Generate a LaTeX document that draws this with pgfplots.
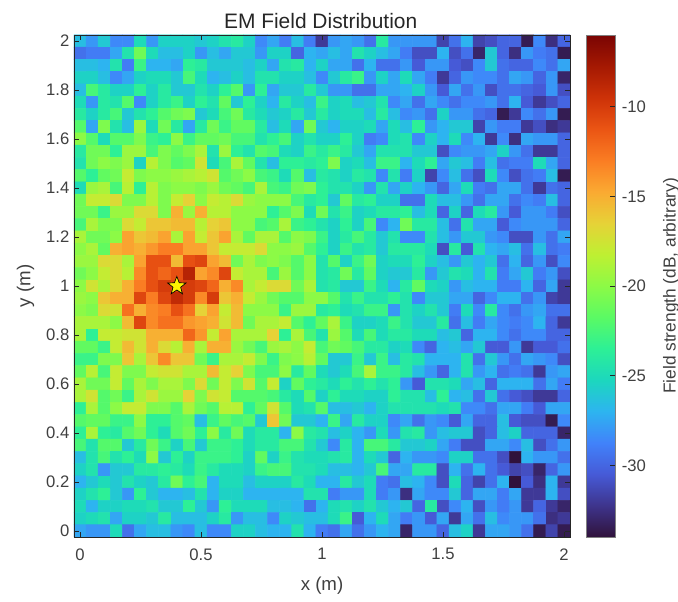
\documentclass[border=0pt]{standalone}
\usepackage{pgfplots}
\pgfplotsset{compat=1.18}
\usepackage{fontspec}
\setmainfont{Liberation Sans}
\definecolor{axc}{RGB}{38,38,38}
\definecolor{txc}{RGB}{64,64,64}
\pgfdeclareplotmark{fstar}{%
\pgfpathmoveto{\pgfpointpolar{90}{\pgfplotmarksize}}%
\pgfpathlineto{\pgfpointpolar{126}{0.42\pgfplotmarksize}}%
\pgfpathlineto{\pgfpointpolar{162}{\pgfplotmarksize}}%
\pgfpathlineto{\pgfpointpolar{198}{0.42\pgfplotmarksize}}%
\pgfpathlineto{\pgfpointpolar{234}{\pgfplotmarksize}}%
\pgfpathlineto{\pgfpointpolar{270}{0.42\pgfplotmarksize}}%
\pgfpathlineto{\pgfpointpolar{306}{\pgfplotmarksize}}%
\pgfpathlineto{\pgfpointpolar{342}{0.42\pgfplotmarksize}}%
\pgfpathlineto{\pgfpointpolar{18}{\pgfplotmarksize}}%
\pgfpathlineto{\pgfpointpolar{54}{0.42\pgfplotmarksize}}%
\pgfpathclose\pgfusepathqfillstroke}
\begin{document}
\begin{tikzpicture}
\useasboundingbox (-55.5pt,-48pt) rectangle (453pt,402.75pt);
\begin{axis}[
  at={(0,0)},anchor=south west,
  scale only axis,width=372pt,height=376.5pt,
  xmin=-0.025,xmax=2.025,ymin=-0.025,ymax=2.025,
  axis on top,
  xtick={0,0.5,1,1.5,2},ytick={0,0.2,0.4,0.6,0.8,1,1.2,1.4,1.6,1.8,2},
  yticklabels={0,0.2,0.4,0.6,0.8,1,1.2,1.4,1.6,1.8,2},
  xticklabels={0,0.5,1,1.5,2},
  tick align=inside,
  major tick length=3.75pt,
  tick style={axc,line width=0.4pt},
  axis line style={axc,line width=0.5pt},
  tick label style={font=\fontsize{12.5pt}{14pt}\selectfont,text=txc},
  xticklabel style={yshift=-5pt},
  xlabel={x (m)},ylabel={y (m)},
  label style={font=\fontsize{14pt}{16pt}\selectfont,text=txc},
  xlabel style={yshift=-6pt},
  ylabel style={yshift=2pt},
  title={EM Field Distribution},
  title style={font=\fontsize{15.7pt}{17pt}\selectfont,text=axc,yshift=-5pt,xshift=-1pt},
  colormap={turbo}{rgb255=(48,18,59) rgb255=(62,52,140) rgb255=(70,90,215) rgb255=(65,130,250) rgb255=(45,180,240) rgb255=(28,215,190) rgb255=(45,240,150) rgb255=(90,250,100) rgb255=(140,250,70) rgb255=(190,240,50) rgb255=(230,210,55) rgb255=(250,170,50) rgb255=(250,125,35) rgb255=(235,85,20) rgb255=(205,50,8) rgb255=(165,25,2) rgb255=(122,4,3)},
  point meta min=-34,point meta max=-6,
  colorbar,
  colorbar/width=22.3pt,
  colorbar shift/.style={xshift=9.75pt},
  colorbar style={
    ytick={-30,-25,-20,-15,-10},
    yticklabels={-30,-25,-20,-15,-10},
    ytick pos=right,
    yticklabel pos=right,
    yticklabel style={xshift=1pt},
    tick align=inside,
    major tick length=4pt,
    tick style={axc,line width=0.4pt},
    axis line style={gray,line width=0.5pt},
    tick label style={font=\fontsize{12.5pt}{14pt}\selectfont,text=txc},
    ylabel={Field strength (dB, arbitrary)},
    ylabel style={font=\fontsize{13pt}{14pt}\selectfont,text=txc,yshift=-6pt},
  },
]
\addplot[matrix plot*,mesh/cols=41,point meta=explicit,forget plot] table[row sep=\\,meta=z,
  x expr={(\coordindex-41*floor((\coordindex+0.5)/41))*0.05},
  y expr={2-floor((\coordindex+0.5)/41)*0.05}]{
z\\
-26.5\\-28\\-26\\-28.5\\-28.5\\-25\\-28\\-25.5\\-25.5\\-25.5\\-26\\-25.5\\-24.5\\-24\\-25.5\\-28.5\\-27.5\\-29\\-26.5\\-29\\-32\\-28\\-27.5\\-28\\-29.5\\-24\\-28\\-28\\-28\\-28\\-31.5\\-29.5\\-27\\-31.5\\-31\\-30\\-30\\-33.5\\-28.5\\-32.5\\-30\\
-29.5\\-29\\-29\\-27.5\\-24.5\\-21\\-25\\-26.5\\-26.5\\-25.5\\-28\\-26.5\\-27.5\\-26\\-26\\-28\\-25.5\\-25.5\\-30\\-27\\-27.5\\-26.5\\-27.5\\-24.5\\-25.5\\-26.5\\-27.5\\-29\\-31\\-31\\-27\\-31\\-29.5\\-33\\-26\\-30\\-32.5\\-28\\-29\\-29.5\\-33.5\\
-26.5\\-26.5\\-27\\-24.5\\-29\\-23\\-27\\-27\\-27.5\\-23.5\\-24\\-26\\-26\\-26\\-26.5\\-25.5\\-27.5\\-24.5\\-24\\-27\\-25.5\\-27.5\\-27.5\\-29.5\\-27\\-29.5\\-29.5\\-28\\-30.5\\-28\\-28\\-30.5\\-31\\-28.5\\-26\\-29.5\\-30\\-30\\-28.5\\-29.5\\-27.5\\
-25.5\\-25.5\\-26.5\\-28.5\\-27.5\\-25.5\\-25\\-25\\-26\\-22.5\\-25\\-27\\-26.5\\-25.5\\-26.5\\-24.5\\-24.5\\-25.5\\-25.5\\-26.5\\-28.5\\-26\\-24\\-23\\-28\\-25.5\\-27.5\\-25\\-27.5\\-29\\-32\\-30\\-28\\-28.5\\-28.5\\-29.5\\-27.5\\-28\\-30\\-28\\-33\\
-26.5\\-22.5\\-24\\-25.5\\-25.5\\-23.5\\-25.5\\-24\\-26\\-26\\-24.5\\-25.5\\-23.5\\-22\\-28\\-23.5\\-27.5\\-26\\-26\\-24\\-26\\-28\\-28\\-29.5\\-29.5\\-27.5\\-27.5\\-27\\-25.5\\-28\\-30.5\\-27.5\\-29.5\\-28\\-31\\-29.5\\-29.5\\-30\\-30.5\\-28\\-31\\
-25\\-28\\-24\\-24.5\\-22\\-28.5\\-25.5\\-24\\-23\\-25.5\\-23.5\\-24.5\\-21.5\\-26\\-23.5\\-25.5\\-27\\-24\\-25.5\\-26.5\\-23\\-25.5\\-25\\-26.5\\-26\\-24.5\\-28.5\\-27.5\\-29.5\\-27.5\\-28.5\\-29.5\\-28.5\\-28.5\\-28\\-29.5\\-27\\-30.5\\-32\\-31\\-30\\
-24\\-25.5\\-24\\-22.5\\-26\\-24.5\\-23.5\\-22\\-21\\-20.5\\-26\\-25\\-22.5\\-21\\-24\\-25\\-26\\-25.5\\-24\\-26\\-24\\-25.5\\-25\\-25\\-26.5\\-24\\-26.5\\-28.5\\-28\\-29.5\\-25.5\\-28\\-28\\-29.5\\-30\\-33.5\\-32\\-28.5\\-29.5\\-28\\-33.5\\
-22\\-27.5\\-20.5\\-24.5\\-26.5\\-19.5\\-25\\-21\\-24\\-27.5\\-24\\-21\\-23\\-21.5\\-21.5\\-24\\-26.5\\-25\\-27.5\\-21\\-26\\-27\\-25.5\\-25.5\\-25\\-27.5\\-25\\-26.5\\-23.5\\-28\\-27\\-26\\-26\\-31.5\\-28\\-29\\-29\\-32\\-31\\-32.5\\-32\\
-20\\-22\\-25\\-22\\-22\\-20.5\\-23\\-23.5\\-20\\-23\\-21.5\\-21.5\\-21\\-22.5\\-22.5\\-24.5\\-23.5\\-22.5\\-25.5\\-24.5\\-25.5\\-25.5\\-23.5\\-25.5\\-29\\-28.5\\-25\\-24.5\\-28.5\\-25.5\\-27\\-25\\-28.5\\-27\\-32\\-28.5\\-32.5\\-27.5\\-28\\-28\\-30\\
-24\\-21\\-21\\-23.5\\-19.5\\-19.5\\-22.5\\-20.5\\-21.5\\-20.5\\-19\\-24.5\\-19.5\\-23.5\\-24.5\\-22\\-22.5\\-25\\-25.5\\-23\\-24\\-23\\-24\\-26\\-27.5\\-24.5\\-24.5\\-24.5\\-26\\-26\\-31\\-28.5\\-28\\-28\\-27.5\\-25.5\\-28\\-29.5\\-32\\-32\\-30\\
-24.5\\-21\\-20\\-20.5\\-19.5\\-25.5\\-18.5\\-20.5\\-22\\-21.5\\-17.5\\-25\\-22.5\\-19\\-21.5\\-24.5\\-26.5\\-23.5\\-23.5\\-24\\-23.5\\-20.5\\-25.5\\-25\\-26.5\\-23\\-23\\-27\\-25\\-23.5\\-27.5\\-26\\-26.5\\-29\\-26.5\\-29.5\\-29\\-29\\-25\\-27.5\\-30\\
-22\\-23.5\\-21.5\\-21\\-18\\-20.5\\-20\\-20\\-19.5\\-19\\-18.5\\-17.5\\-22\\-21\\-20\\-22.5\\-23\\-25\\-22\\-26.5\\-24\\-24.5\\-25.5\\-24\\-24.5\\-28.5\\-24.5\\-29\\-25.5\\-31.5\\-28.5\\-26.5\\-29.5\\-31\\-25\\-28.5\\-31\\-29.5\\-29\\-26.5\\-33.5\\
-25\\-19.5\\-19\\-22.5\\-18.5\\-23.5\\-18.5\\-20.5\\-20\\-20\\-20.5\\-19.5\\-21\\-21.5\\-22.5\\-19\\-22.5\\-23\\-21\\-20.5\\-23.5\\-24.5\\-24.5\\-25.5\\-28\\-24.5\\-27.5\\-25.5\\-27\\-28\\-30\\-27.5\\-25\\-29\\-29.5\\-27.5\\-27.5\\-29.5\\-32\\-29.5\\-30\\
-21\\-18\\-18\\-17\\-20.5\\-20.5\\-18.5\\-20.5\\-18\\-16.5\\-20\\-18\\-18.5\\-17\\-19.5\\-20\\-20\\-20\\-22.5\\-24\\-23.5\\-26\\-21.5\\-24\\-23.5\\-25.5\\-25.5\\-29.5\\-29.5\\-25\\-26.5\\-26.5\\-28\\-29.5\\-27.5\\-27.5\\-29.5\\-28.5\\-29\\-26.5\\-30\\
-21\\-21\\-23\\-19.5\\-19.5\\-17\\-17\\-20.5\\-15\\-19.5\\-15\\-18.5\\-18.5\\-20\\-20\\-20\\-23.5\\-22\\-20.5\\-25\\-21\\-24.5\\-23\\-25.5\\-25\\-24\\-24\\-23.5\\-26.5\\-25\\-30\\-25.5\\-30\\-25\\-24\\-28\\-30.5\\-28\\-28\\-29\\-31\\
-22.5\\-19\\-20.5\\-20.5\\-17\\-18\\-16\\-16\\-15.5\\-15.5\\-18.5\\-16.5\\-16\\-20\\-20\\-22.5\\-22\\-19\\-23\\-23.5\\-24.5\\-25.5\\-23.5\\-25.5\\-22.5\\-28.5\\-27\\-21\\-24\\-24\\-26.5\\-29.5\\-24.5\\-27.5\\-27.5\\-30.5\\-28.5\\-28\\-28\\-28\\-30\\
-19\\-21\\-21\\-20\\-14.5\\-16\\-15.5\\-14.5\\-19\\-14.5\\-18\\-16\\-14.5\\-19\\-21.5\\-19\\-19\\-22\\-20\\-20.5\\-23\\-25.5\\-24\\-22.5\\-24\\-26\\-24.5\\-28.5\\-28.5\\-24.5\\-26.5\\-28\\-26\\-26\\-28\\-28.5\\-31\\-31\\-28\\-29.5\\-27.5\\
-20\\-19\\-21.5\\-15\\-14.5\\-15\\-14\\-13\\-13\\-14.5\\-14.5\\-16\\-18\\-18\\-18\\-17\\-20\\-20\\-19.5\\-22\\-23.5\\-25.5\\-23\\-24.5\\-24\\-26\\-24\\-24\\-24\\-25\\-31\\-24\\-30.5\\-24.5\\-27\\-27.5\\-26.5\\-29.5\\-26.5\\-29.5\\-29\\
-19.5\\-19.5\\-17\\-17\\-19\\-14.5\\-11\\-11\\-15.5\\-11\\-10.5\\-14.5\\-15.5\\-21\\-19\\-20.5\\-20\\-20.5\\-22\\-20\\-24.5\\-22\\-25.5\\-23\\-21\\-25.5\\-25\\-25\\-23.5\\-25.5\\-26.5\\-28\\-26\\-27\\-26\\-29.5\\-27\\-30\\-28\\-31\\-28.5\\
-21\\-20\\-18\\-17\\-18.5\\-13.5\\-11\\-12\\-11\\-8.5\\-14.5\\-13.5\\-10.5\\-18\\-19\\-19\\-22.5\\-19.5\\-22\\-20\\-24.5\\-24\\-21\\-24\\-21.5\\-25.5\\-26\\-26\\-24\\-28\\-26\\-24.5\\-25\\-27\\-24.5\\-29\\-27.5\\-26\\-29\\-28\\-31\\
-20\\-17.5\\-19\\-17\\-15\\-13\\-11\\-10\\-10.5\\-10\\-10.5\\-12\\-15\\-13.5\\-19\\-18\\-17\\-17\\-21\\-19\\-24.5\\-24\\-26\\-26\\-23\\-25\\-27\\-24\\-21.5\\-25\\-25.5\\-28\\-26.5\\-27\\-27\\-29\\-29\\-27\\-30\\-27.5\\-32\\
-19.5\\-20\\-16\\-15\\-15\\-10.5\\-13\\-10.5\\-9\\-10\\-13.5\\-10\\-16\\-15\\-18\\-19.5\\-21\\-22\\-22\\-20\\-20\\-22\\-24.5\\-23\\-24.5\\-24.5\\-23.5\\-24.5\\-28.5\\-26\\-26\\-27.5\\-27.5\\-30\\-28.5\\-27\\-27\\-29.5\\-28\\-31.5\\-32\\
-20\\-20.5\\-17\\-17.5\\-12.5\\-15\\-13.5\\-13\\-11\\-12.5\\-16.5\\-14.5\\-18\\-15.5\\-20\\-20\\-20\\-23\\-19.5\\-19.5\\-24\\-23.5\\-25\\-24.5\\-23\\-23\\-28\\-24.5\\-25.5\\-24.5\\-26\\-29\\-25\\-28.5\\-24\\-28.5\\-29.5\\-28\\-27.5\\-29.5\\-29.5\\
-19\\-19\\-19\\-20\\-15.5\\-10.5\\-13.5\\-12.5\\-12.5\\-14\\-14.5\\-15\\-17.5\\-15.5\\-21\\-19\\-19\\-18\\-22\\-23.5\\-21.5\\-19\\-23\\-25.5\\-25.5\\-25\\-23\\-24.5\\-26\\-26\\-24\\-29.5\\-26.5\\-29\\-27.5\\-28.5\\-29\\-28.5\\-27\\-30\\-32\\
-19\\-23.5\\-18\\-18\\-17.5\\-17.5\\-15\\-15\\-15\\-12\\-14\\-18\\-14.5\\-19\\-19\\-19\\-16.5\\-23.5\\-19\\-22.5\\-24.5\\-19.5\\-22\\-25\\-22.5\\-25\\-24\\-24\\-25\\-25\\-26.5\\-26\\-30\\-27\\-27\\-28.5\\-29.5\\-28.5\\-28.5\\-30\\-30\\
-21.5\\-21.5\\-23\\-18\\-15.5\\-17.5\\-15\\-17\\-18.5\\-15\\-19\\-15\\-15\\-19.5\\-21\\-22.5\\-19.5\\-19\\-20\\-18\\-22.5\\-21\\-21.5\\-22.5\\-24\\-24\\-25.5\\-25\\-28.5\\-30\\-27\\-26.5\\-27.5\\-26\\-30.5\\-30.5\\-28\\-32\\-30.5\\-30.5\\-29.5\\
-23\\-23\\-20.5\\-20.5\\-16\\-19\\-16\\-13.5\\-16\\-16\\-21\\-23\\-19\\-19\\-18\\-20.5\\-23\\-20.5\\-20\\-18.5\\-21.5\\-26\\-26\\-23\\-26\\-23\\-26.5\\-24\\-24.5\\-27\\-27\\-27\\-24.5\\-29.5\\-26\\-28\\-29.5\\-27.5\\-28\\-28.5\\-31\\
-21.5\\-18.5\\-22.5\\-18\\-20.5\\-20.5\\-18\\-17.5\\-17.5\\-19\\-19\\-15.5\\-18\\-16.5\\-20.5\\-22.5\\-22.5\\-20\\-24\\-21.5\\-25\\-26\\-25\\-22.5\\-19\\-23\\-23\\-24\\-26.5\\-28\\-30\\-27\\-24.5\\-28\\-27\\-29.5\\-29\\-29.5\\-32\\-28\\-27.5\\
-19\\-21\\-21\\-18\\-21.5\\-19\\-20.5\\-19\\-19\\-20.5\\-17\\-21\\-18\\-20.5\\-17.5\\-22\\-18\\-25.5\\-21.5\\-23.5\\-24\\-25\\-23.5\\-24.5\\-23.5\\-24.5\\-23.5\\-28\\-30.5\\-24.5\\-24.5\\-25\\-27.5\\-26.5\\-30\\-27\\-27\\-27\\-29.5\\-27.5\\-29\\
-19\\-17.5\\-22\\-21\\-23\\-19\\-17.5\\-19.5\\-19.5\\-16.5\\-20.5\\-17.5\\-18\\-22\\-22\\-22\\-22.5\\-24\\-25\\-22\\-25.5\\-23.5\\-25\\-25\\-25.5\\-25.5\\-23.5\\-24.5\\-24.5\\-26.5\\-23.5\\-27\\-26.5\\-29.5\\-26\\-29.5\\-30.5\\-31\\-32\\-32\\-30\\
-23.5\\-19\\-22\\-20\\-18\\-18\\-20.5\\-20.5\\-22\\-19\\-21\\-22\\-18.5\\-18.5\\-23.5\\-21.5\\-17.5\\-22\\-25\\-24.5\\-22\\-26.5\\-26.5\\-26\\-27\\-25.5\\-24.5\\-24.5\\-24.5\\-24.5\\-25\\-24.5\\-28.5\\-28.5\\-29.5\\-27.5\\-27.5\\-29\\-30.5\\-27.5\\-27.5\\
-22\\-21.5\\-21.5\\-23\\-23\\-20\\-23.5\\-23.5\\-22\\-21.5\\-26.5\\-23\\-21.5\\-22.5\\-22\\-26\\-16\\-21\\-26\\-26\\-27\\-23\\-27.5\\-24\\-25.5\\-25.5\\-28.5\\-27.5\\-29.5\\-28\\-28.5\\-30.5\\-27.5\\-30\\-30\\-26.5\\-30.5\\-31\\-31\\-33.5\\-28.5\\
-23.5\\-19\\-23.5\\-24\\-22\\-21\\-23.5\\-25\\-22\\-21\\-23.5\\-20\\-24\\-21\\-25\\-24\\-24\\-27\\-20\\-24\\-24.5\\-26.5\\-25.5\\-27\\-28\\-25\\-28\\-24.5\\-24\\-28\\-26.5\\-26\\-26\\-31\\-30\\-26.5\\-25.5\\-30\\-30\\-30\\-33\\
-22.5\\-24.5\\-22\\-22\\-26\\-24\\-21\\-23\\-25.5\\-22.5\\-26\\-23\\-23\\-23.5\\-25\\-24\\-24\\-22.5\\-22.5\\-24.5\\-26\\-28.5\\-24\\-27\\-22.5\\-22.5\\-24\\-26\\-26\\-25.5\\-27.5\\-29\\-31\\-31\\-27.5\\-27.5\\-28.5\\-26.5\\-31\\-29.5\\-28\\
-26.5\\-24.5\\-22.5\\-24.5\\-23.5\\-25\\-20\\-26\\-23.5\\-25.5\\-23\\-23\\-23\\-23.5\\-25.5\\-21.5\\-25.5\\-23\\-24.5\\-25\\-25\\-24.5\\-24\\-27\\-25\\-26\\-30\\-27\\-28\\-28\\-28.5\\-25.5\\-25.5\\-29.5\\-29.5\\-31\\-34\\-27\\-28\\-28\\-29.5\\
-25.5\\-24.5\\-28\\-26\\-26\\-24\\-24\\-23.5\\-24\\-25\\-23\\-24\\-25\\-25\\-25.5\\-23\\-22.5\\-22.5\\-24.5\\-24.5\\-25\\-26.5\\-26.5\\-27\\-26\\-22.5\\-27.5\\-27.5\\-24\\-24\\-31\\-27\\-29.5\\-27\\-29.5\\-30.5\\-31.5\\-31\\-33\\-30\\-28\\
-27\\-26\\-25\\-26\\-24.5\\-25.5\\-26\\-24\\-21\\-23.5\\-22.5\\-27\\-25\\-25\\-26.5\\-25.5\\-25.5\\-25.5\\-24\\-25\\-27\\-27\\-24\\-26\\-25\\-29\\-29.5\\-26.5\\-27\\-28.5\\-31\\-25\\-30\\-31.5\\-29.5\\-27\\-34\\-30.5\\-32.5\\-27\\-32\\
-25.5\\-24.5\\-23.5\\-26\\-28\\-23.5\\-26\\-27\\-27\\-26.5\\-24.5\\-27\\-25.5\\-25.5\\-27\\-27\\-27\\-27\\-27\\-24.5\\-24.5\\-29\\-28\\-28\\-25\\-29\\-28\\-32.5\\-27.5\\-28.5\\-28.5\\-26\\-30\\-27.5\\-27.5\\-29\\-27.5\\-32\\-32\\-27\\-31\\
-25\\-27\\-25.5\\-25.5\\-25\\-25\\-24.5\\-26\\-26\\-23.5\\-26\\-28\\-23.5\\-25\\-25\\-25\\-26.5\\-26.5\\-27\\-29.5\\-27\\-25\\-24.5\\-25.5\\-24.5\\-26\\-27\\-26\\-30\\-24\\-31\\-28.5\\-27\\-31\\-28\\-29\\-28\\-32\\-30\\-32\\-33\\
-25.5\\-25\\-24.5\\-27.5\\-25.5\\-25.5\\-26\\-24\\-26.5\\-26.5\\-26.5\\-25.5\\-24\\-28\\-26.5\\-26.5\\-28.5\\-25.5\\-26\\-26.5\\-26.5\\-25\\-23\\-30.5\\-27\\-25\\-27.5\\-29\\-28\\-30.5\\-27.5\\-32\\-27.5\\-29.5\\-26.5\\-28.5\\-28\\-28\\-29.5\\-32.5\\-32\\
-27.5\\-28\\-28\\-25\\-29.5\\-27.5\\-26.5\\-26.5\\-28\\-28.5\\-26.5\\-28.5\\-28.5\\-25.5\\-25.5\\-26.5\\-27\\-27\\-24.5\\-27\\-29\\-29.5\\-27.5\\-29.5\\-28\\-27\\-27.5\\-33\\-28\\-28\\-30\\-26.5\\-25.5\\-32\\-27.5\\-27.5\\-28\\-29.5\\-33.5\\-31.5\\-33.5\\
};
\addplot[only marks,mark=fstar,mark size=7.2pt,mark options={fill=yellow,draw=black,line width=0.5pt},forget plot] coordinates {(0.4,1)};
\end{axis}
\end{tikzpicture}
\end{document}
